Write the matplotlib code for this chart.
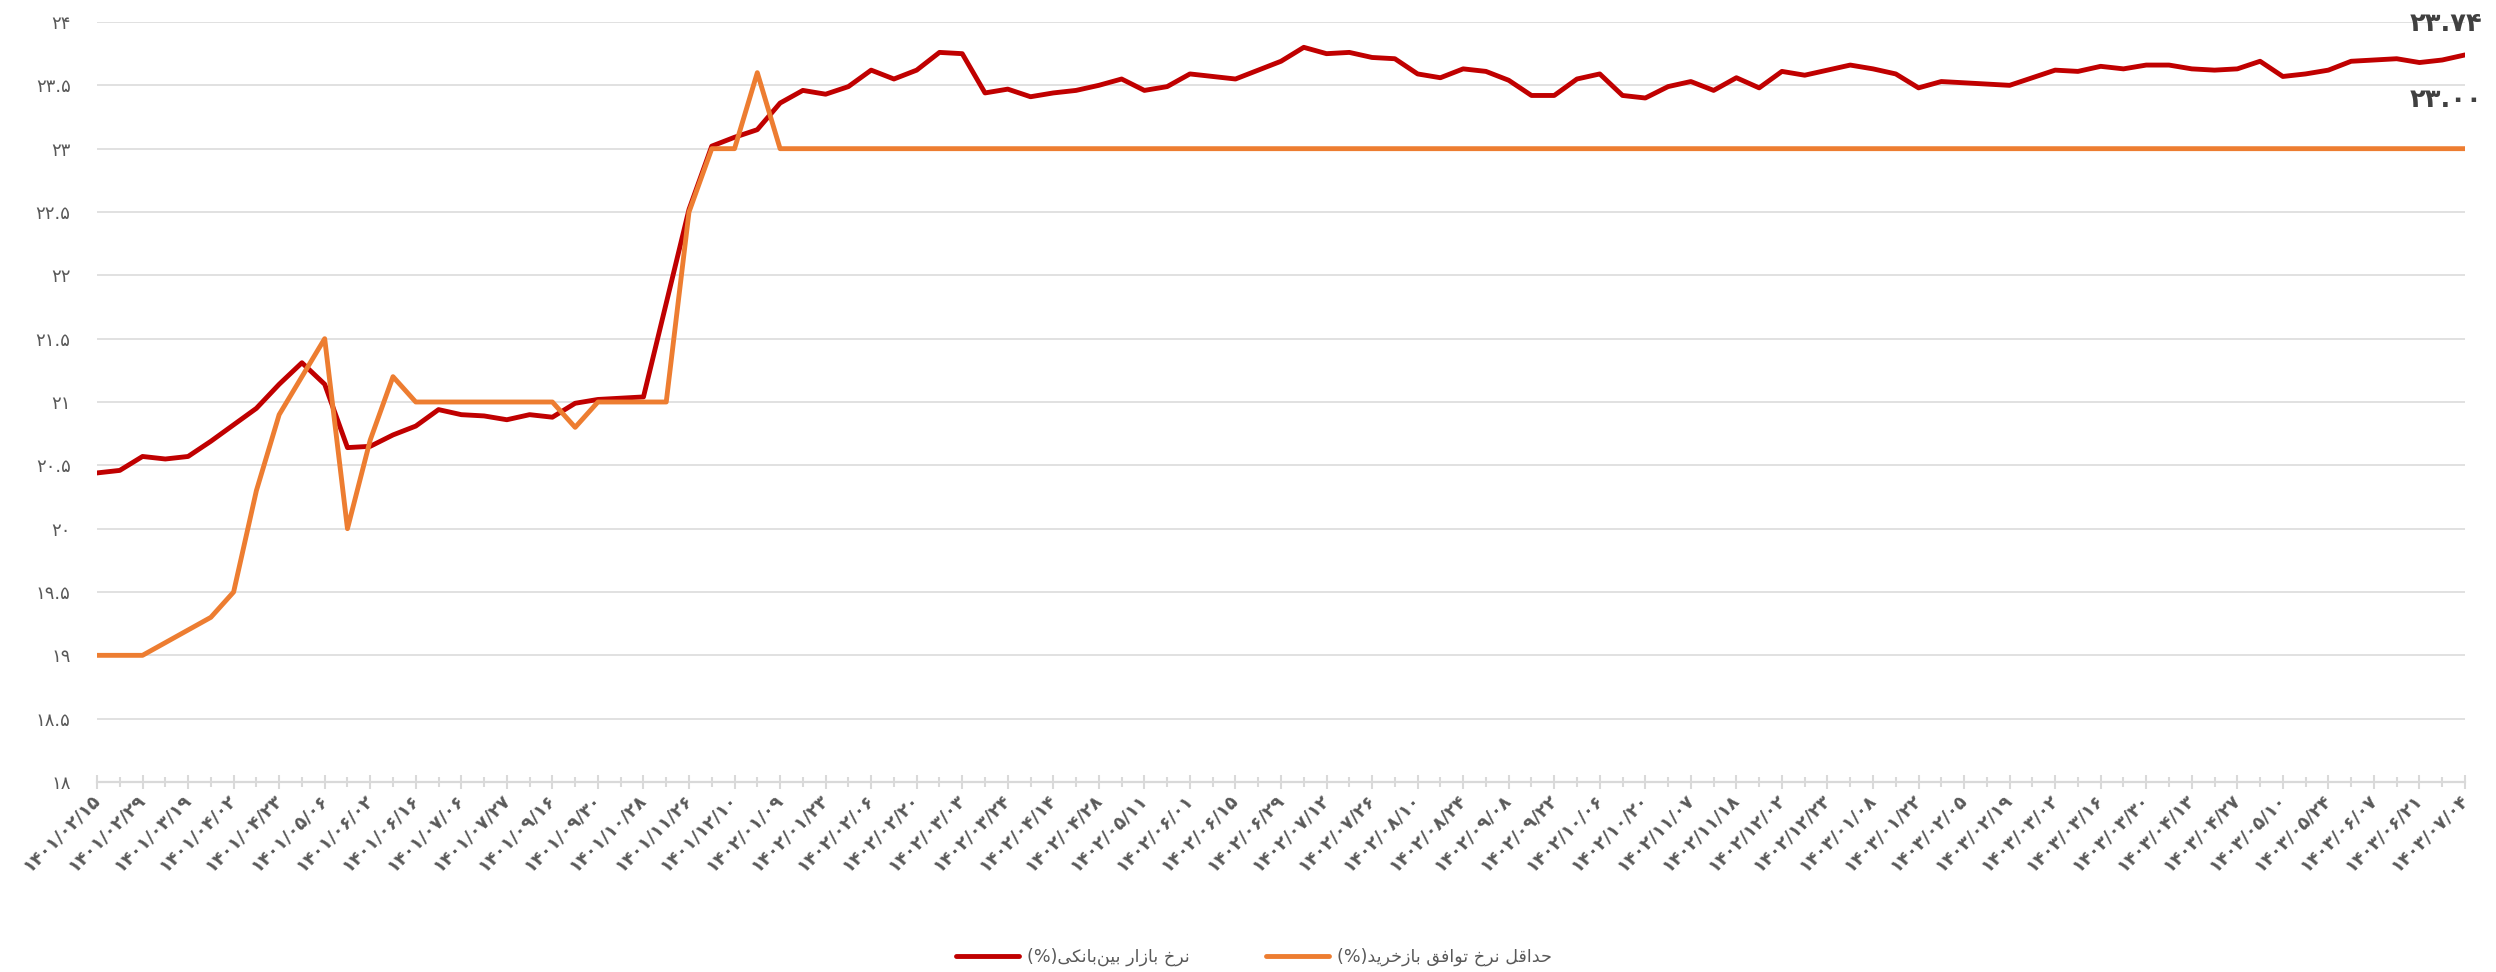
#!/usr/bin/env python3
"""
Interbank rate vs. minimum repo rate (weekly), Persian labels
"""

import matplotlib
matplotlib.use('Agg')
import matplotlib.pyplot as plt
import numpy as np
from matplotlib.ticker import MultipleLocator, FuncFormatter

plt.rcParams['font.family'] = ['DejaVu Sans']

# x-axis labels (every second observation is labelled)
date_labels = [
    '۱۴۰۱/۰۲/۱۵', '۱۴۰۱/۰۲/۲۹', '۱۴۰۱/۰۳/۱۹', '۱۴۰۱/۰۴/۰۲', '۱۴۰۱/۰۴/۲۳',
    '۱۴۰۱/۰۵/۰۶', '۱۴۰۱/۰۶/۰۲', '۱۴۰۱/۰۶/۱۶', '۱۴۰۱/۰۷/۰۶', '۱۴۰۱/۰۷/۲۷',
    '۱۴۰۱/۰۹/۱۶', '۱۴۰۱/۰۹/۳۰', '۱۴۰۱/۱۰/۲۸', '۱۴۰۱/۱۱/۲۶', '۱۴۰۱/۱۲/۱۰',
    '۱۴۰۲/۰۱/۰۹', '۱۴۰۲/۰۱/۲۳', '۱۴۰۲/۰۲/۰۶', '۱۴۰۲/۰۲/۲۰', '۱۴۰۲/۰۳/۰۳',
    '۱۴۰۲/۰۳/۲۴', '۱۴۰۲/۰۴/۱۴', '۱۴۰۲/۰۴/۲۸', '۱۴۰۲/۰۵/۱۱', '۱۴۰۲/۰۶/۰۱',
    '۱۴۰۲/۰۶/۱۵', '۱۴۰۲/۰۶/۲۹', '۱۴۰۲/۰۷/۱۲', '۱۴۰۲/۰۷/۲۶', '۱۴۰۲/۰۸/۱۰',
    '۱۴۰۲/۰۸/۲۴', '۱۴۰۲/۰۹/۰۸', '۱۴۰۲/۰۹/۲۲', '۱۴۰۲/۱۰/۰۶', '۱۴۰۲/۱۰/۲۰',
    '۱۴۰۲/۱۱/۰۷', '۱۴۰۲/۱۱/۱۸', '۱۴۰۲/۱۲/۰۲', '۱۴۰۲/۱۲/۲۳', '۱۴۰۳/۰۱/۰۸',
    '۱۴۰۳/۰۱/۲۲', '۱۴۰۳/۰۲/۰۵', '۱۴۰۳/۰۲/۱۹', '۱۴۰۳/۰۳/۰۲', '۱۴۰۳/۰۳/۱۶',
    '۱۴۰۳/۰۳/۳۰', '۱۴۰۳/۰۴/۱۳', '۱۴۰۳/۰۴/۲۷', '۱۴۰۳/۰۵/۱۰', '۱۴۰۳/۰۵/۲۴',
    '۱۴۰۳/۰۶/۰۷', '۱۴۰۳/۰۶/۲۱', '۱۴۰۳/۰۷/۰۴',
]

# interbank market rate (%)
interbank = [
    20.44, 20.46, 20.57, 20.55, 20.57, 20.69, 20.82, 20.95, 21.14, 21.31,
    21.14, 20.64, 20.65, 20.74, 20.81, 20.94, 20.90, 20.89, 20.86, 20.90,
    20.88, 20.99, 21.02, 21.03, 21.04, 21.78, 22.52, 23.02, 23.09, 23.15,
    23.36, 23.46, 23.43, 23.49, 23.62, 23.55, 23.62, 23.76, 23.75, 23.44,
    23.47, 23.41, 23.44, 23.46, 23.50, 23.55, 23.46, 23.49, 23.59, 23.57,
    23.55, 23.62, 23.69, 23.80, 23.75, 23.76, 23.72, 23.71, 23.59, 23.56,
    23.63, 23.61, 23.54, 23.42, 23.42, 23.55, 23.59, 23.42, 23.40, 23.49,
    23.53, 23.46, 23.56, 23.48, 23.61, 23.58, 23.62, 23.66, 23.63, 23.59,
    23.48, 23.53, 23.52, 23.51, 23.50, 23.56, 23.62, 23.61, 23.65, 23.63,
    23.66, 23.66, 23.63, 23.62, 23.63, 23.69, 23.57, 23.59, 23.62, 23.69,
    23.70, 23.71, 23.68, 23.70, 23.74,
]

# minimum repo agreement rate (%)
repo = [
    19.0, 19.0, 19.0, 19.1, 19.2, 19.3, 19.5, 20.3, 20.9, 21.2,
    21.5, 20.0, 20.7, 21.2, 21.0, 21.0, 21.0, 21.0, 21.0, 21.0,
    21.0, 20.8, 21.0, 21.0, 21.0, 21.0, 22.5, 23.0, 23.0, 23.6,
    23.0, 23.0, 23.0, 23.0, 23.0, 23.0, 23.0, 23.0, 23.0, 23.0,
    23.0, 23.0, 23.0, 23.0, 23.0, 23.0, 23.0, 23.0, 23.0, 23.0,
    23.0, 23.0, 23.0, 23.0, 23.0, 23.0, 23.0, 23.0, 23.0, 23.0,
    23.0, 23.0, 23.0, 23.0, 23.0, 23.0, 23.0, 23.0, 23.0, 23.0,
    23.0, 23.0, 23.0, 23.0, 23.0, 23.0, 23.0, 23.0, 23.0, 23.0,
    23.0, 23.0, 23.0, 23.0, 23.0, 23.0, 23.0, 23.0, 23.0, 23.0,
    23.0, 23.0, 23.0, 23.0, 23.0, 23.0, 23.0, 23.0, 23.0, 23.0,
    23.0, 23.0, 23.0, 23.0, 23.0,
]

series_names = ['نرخ بازار بین‌بانکی(%)', 'حداقل نرخ توافق بازخرید(%)']

RED = '#C00000'
ORANGE = '#ED7D31'
GRAY = '#595959'
GRID = '#D9D9D9'

FA_DIGITS = str.maketrans('0123456789', '۰۱۲۳۴۵۶۷۸۹')

# presentation forms: isolated, final, initial, medial
FORMS = {
    'ا': ('\uFE8D', '\uFE8E', None, None),
    'ب': ('\uFE8F', '\uFE90', '\uFE91', '\uFE92'),
    'ت': ('\uFE95', '\uFE96', '\uFE97', '\uFE98'),
    'ح': ('\uFEA1', '\uFEA2', '\uFEA3', '\uFEA4'),
    'خ': ('\uFEA5', '\uFEA6', '\uFEA7', '\uFEA8'),
    'د': ('\uFEA9', '\uFEAA', None, None),
    'ر': ('\uFEAD', '\uFEAE', None, None),
    'ز': ('\uFEAF', '\uFEB0', None, None),
    'ف': ('\uFED1', '\uFED2', '\uFED3', '\uFED4'),
    'ق': ('\uFED5', '\uFED6', '\uFED7', '\uFED8'),
    'ل': ('\uFEDD', '\uFEDE', '\uFEDF', '\uFEE0'),
    'ن': ('\uFEE5', '\uFEE6', '\uFEE7', '\uFEE8'),
    'و': ('\uFEED', '\uFEEE', None, None),
    'ی': ('\uFBFC', '\uFBFD', '\uFBFE', '\uFBFF'),
    'ک': ('\uFB8E', '\uFB8F', '\uFB90', '\uFB91'),
}


def fa(s):
    return s.translate(FA_DIGITS)


def rtl(text):
    """Shape Persian letters and put them in visual (left-to-right) order."""
    out = []
    for i, ch in enumerate(text):
        forms = FORMS.get(ch)
        if forms is None:
            out.append(ch)
            continue
        prev = FORMS.get(text[i - 1]) if i > 0 else None
        nxt = FORMS.get(text[i + 1]) if i + 1 < len(text) else None
        join_prev = prev is not None and prev[2] is not None
        join_next = forms[2] is not None and nxt is not None
        if join_prev and join_next:
            out.append(forms[3])
        elif join_prev:
            out.append(forms[1])
        elif join_next:
            out.append(forms[2])
        else:
            out.append(forms[0])
    s = ''.join(out).replace('\u200c', '')
    return s[::-1].translate(str.maketrans('()', ')('))


W, H = 2496, 972
fig = plt.figure(figsize=(W / 100, H / 100), dpi=100)
left, right, top, bottom = 97, 2465, 22, 782
ax = fig.add_axes([left / W, 1 - bottom / H, (right - left) / W, (bottom - top) / H])

x = np.arange(len(interbank))
ax.plot(x, interbank, color=RED, lw=3.5, solid_joinstyle='round',
        solid_capstyle='round', label=rtl(series_names[0]), zorder=3)
ax.plot(x, repo, color=ORANGE, lw=3.5, solid_joinstyle='round',
        solid_capstyle='round', label=rtl(series_names[1]), zorder=4)

ax.set_xlim(x[0], x[-1])
ax.set_ylim(18, 24)
ax.yaxis.set_major_locator(MultipleLocator(0.5))
ax.yaxis.set_major_formatter(FuncFormatter(lambda v, p: fa(f'{v:g}')))
ax.grid(axis='y', color=GRID, lw=1.1)
ax.set_axisbelow(True)

for s in ['left', 'right', 'top']:
    ax.spines[s].set_visible(False)
ax.spines['bottom'].set_color(GRID)
ax.spines['bottom'].set_linewidth(1.6)

ax.tick_params(axis='y', length=0, pad=19, labelsize=13, labelcolor=GRAY)

ax.set_xticks(x[::2])
ax.set_xticklabels(date_labels, rotation=45, ha='right', va='center',
                   rotation_mode='anchor', fontsize=13, fontweight='bold',
                   color=GRAY)
ax.set_xticks(x, minor=True)
ax.tick_params(axis='x', which='major', direction='inout', length=10,
               width=1.5, color=GRID, pad=6)
ax.tick_params(axis='x', which='minor', direction='inout', length=7,
               width=1.5, color=GRID)

# end-of-series value labels
ax.annotate(fa(f'{interbank[-1]:.2f}'), xy=(x[-1], interbank[-1]),
            xytext=(17, 31), textcoords='offset pixels', ha='right',
            va='center', fontsize=18.5, fontweight='bold', color='#404040',
            annotation_clip=False)
ax.annotate(fa(f'{repo[-1]:.2f}'), xy=(x[-1], repo[-1]),
            xytext=(17, 49), textcoords='offset pixels', ha='right',
            va='center', fontsize=18.5, fontweight='bold', color='#404040',
            annotation_clip=False)

fig.legend(loc='center', bbox_to_anchor=(0.5024, 1 - 957 / H), ncol=2,
           frameon=False, fontsize=12.6, handlelength=3.6, handletextpad=0.45,
           columnspacing=4.4, labelcolor=GRAY)

fig.savefig('out.png', dpi=100)
print("Saved: out.png")
